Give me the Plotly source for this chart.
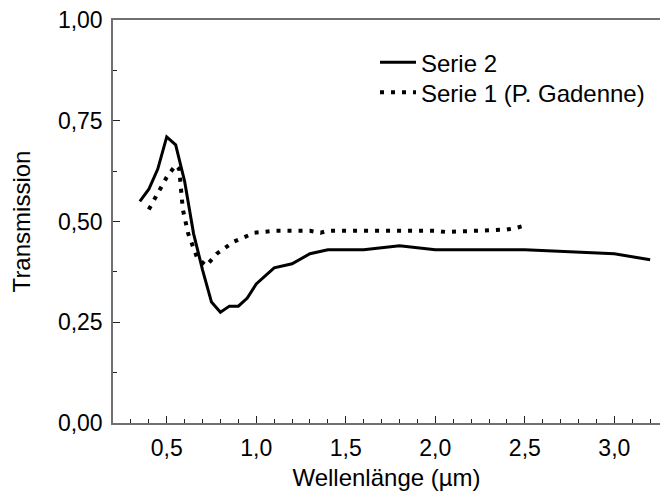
import plotly.graph_objects as go

# Serie 2 (solid)
s2_x = [0.35, 0.40, 0.45, 0.50, 0.55, 0.60, 0.65, 0.70, 0.75, 0.80, 0.85, 0.90, 0.95, 1.00,
        1.10, 1.20, 1.30, 1.40, 1.60, 1.80, 2.00, 2.50, 3.00, 3.20]
s2_y = [0.55, 0.58, 0.63, 0.71, 0.69, 0.60, 0.47, 0.38, 0.30, 0.275, 0.29, 0.29, 0.31, 0.345,
        0.385, 0.395, 0.42, 0.43, 0.43, 0.44, 0.43, 0.43, 0.42, 0.405]

# Serie 1 (P. Gadenne) (dotted)
s1_x = [0.40, 0.45, 0.50, 0.55, 0.57, 0.59, 0.62, 0.67, 0.72, 0.78, 0.875, 0.99, 1.10, 1.20,
        1.30, 1.36, 1.40, 1.60, 1.80, 2.00, 2.06, 2.20, 2.40, 2.45, 2.50]
s1_y = [0.53, 0.57, 0.61, 0.64, 0.63, 0.53, 0.47, 0.41, 0.39, 0.42, 0.45, 0.472, 0.477, 0.477,
        0.477, 0.472, 0.477, 0.477, 0.477, 0.477, 0.474, 0.477, 0.48, 0.484, 0.49]

x_ticks = [0.5, 1.0, 1.5, 2.0, 2.5, 3.0]
y_ticks = [0.0, 0.25, 0.5, 0.75, 1.0]

FONT = "Liberation Sans, Arial, sans-serif"

fig = go.Figure()
fig.add_trace(go.Scatter(x=s2_x, y=s2_y, mode="lines", name="Serie 2",
                         line=dict(color="black", width=3), legend="legend"))
fig.add_trace(go.Scatter(x=s1_x, y=s1_y, mode="lines", name="Serie 1 (P. Gadenne)",
                         line=dict(color="black", width=4, dash="4px,7px"), legend="legend2"))

axis_common = dict(
    showgrid=False, zeroline=False, showline=True, linecolor="#707070", linewidth=1.5,
    ticks="inside", ticklen=7, tickwidth=1.2, tickcolor="#222",
    tickfont=dict(family=FONT, size=23, color="black"),
    ticklabelstandoff=4,
)

legend_common = dict(xanchor="left", yanchor="middle",
                     bgcolor="rgba(0,0,0,0)", borderwidth=0,
                     font=dict(family=FONT, size=24, color="black"),
                     itemwidth=36)

fig.update_layout(
    width=660, height=493,
    margin=dict(l=113, r=0, t=20, b=70),
    paper_bgcolor="white", plot_bgcolor="white",
    separators=",.",
    font=dict(family=FONT, color="black"),
    showlegend=True,
    legend=dict(x=0.479, y=0.894, **legend_common),
    legend2=dict(x=0.479, y=0.8195, **legend_common),
    xaxis=dict(range=[0.2, 3.255], tickvals=x_ticks, tickformat=".1f",
               mirror=True,
               minor=dict(dtick=0.1, tick0=0.0, ticks="inside", ticklen=4, tickcolor="#222", tickwidth=1),
               title=dict(text="Wellenlänge (µm)", font=dict(family=FONT, size=24), standoff=9),
               **axis_common),
    yaxis=dict(range=[0, 1.0], tickvals=y_ticks, tickformat=".2f",
               minor=dict(dtick=0.125, tick0=0.0, ticks="inside", ticklen=4, tickcolor="#222", tickwidth=1),
               title=dict(text="Transmission", font=dict(family=FONT, size=24), standoff=20),
               **axis_common),
)

fig.write_html("out.html")
